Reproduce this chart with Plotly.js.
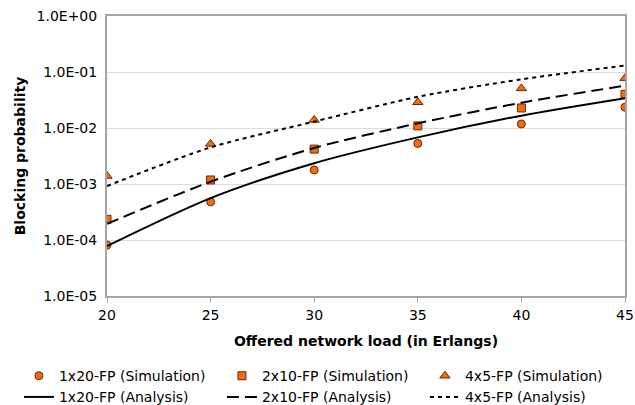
<!DOCTYPE html>
<html>
<head>
<meta charset="utf-8">
<script src="https://cdn.plot.ly/plotly-3.0.1.min.js"></script>
<style>html,body{margin:0;padding:0;background:#fff;}#chart{width:635px;height:405px;}</style>
</head>
<body>
<div id="chart"></div>
<script>
const load = [20, 25, 30, 35, 40, 45];

const sim1x20 = [8.1e-5, 4.8e-4, 1.78e-3, 5.3e-3, 1.18e-2, 2.35e-2];
const sim2x10 = [2.34e-4, 1.18e-3, 4.2e-3, 1.09e-2, 2.28e-2, 4.0e-2];
const sim4x5  = [1.39e-3, 5.2e-3, 1.39e-2, 2.88e-2, 5.1e-2, 7.7e-2];

const ana1x20 = [7.8e-5, 5.6e-4, 2.35e-3, 6.8e-3, 1.66e-2, 3.4e-2];
const ana2x10 = [1.94e-4, 1.1e-3, 4.4e-3, 1.21e-2, 2.83e-2, 5.7e-2];
const ana4x5  = [9.2e-4, 4.5e-3, 1.3e-2, 3.6e-2, 7.4e-2, 1.3e-1];

const yTickVals = [1e-5, 1e-4, 1e-3, 1e-2, 1e-1, 1];
const yTickText = ['1.0E-05', '1.0E-04', '1.0E-03', '1.0E-02', '1.0E-01', '1.0E+00'];
const xTickVals = [20, 25, 30, 35, 40, 45];

const names = {
  s1: '1x20-FP (Simulation)', s2: '2x10-FP (Simulation)', s3: '4x5-FP (Simulation)',
  a1: '1x20-FP (Analysis)', a2: '2x10-FP (Analysis)', a3: '4x5-FP (Analysis)'
};

const orange = '#f26a12';
const outline = '#6b2a00';
function simTrace(y, name, symbol, size) {
  return {x: load, y: y, name: name, type: 'scatter', mode: 'markers',
    marker: {symbol: symbol, size: size, color: orange, line: {color: outline, width: 1}}};
}
function anaTrace(y, name, dash) {
  return {x: load, y: y, name: name, type: 'scatter', mode: 'lines',
    line: {color: '#000000', width: 2, dash: dash, shape: 'spline', smoothing: 0.8}};
}

const data = [
  simTrace(sim1x20, names.s1, 'circle', 8),
  simTrace(sim2x10, names.s2, 'square', 8),
  simTrace(sim4x5, names.s3, 'triangle-up', 9),
  anaTrace(ana1x20, names.a1, 'solid'),
  anaTrace(ana2x10, names.a2, '12px,6px'),
  anaTrace(ana4x5, names.a3, '4px,4px')
];

const font = {family: 'DejaVu Sans, Verdana, sans-serif', size: 14, color: '#000'};
const layout = {
  width: 635, height: 405,
  margin: {l: 107, r: 10, t: 16, b: 109, autoexpand: false},
  paper_bgcolor: '#fff', plot_bgcolor: '#fff',
  font: font,
  showlegend: true,
  xaxis: {
    range: [20, 45], tickvals: xTickVals, ticks: 'outside', ticklen: 5, tickcolor: '#b0b0b0',
    showgrid: false, showline: true, linecolor: '#a6a6a6', linewidth: 2, mirror: true,
    zeroline: false, tickfont: font,
    title: {text: '<b>Offered network load (in Erlangs)</b>', font: font, standoff: 14}
  },
  yaxis: {
    type: 'log', range: [-5, 0], tickmode: 'array', tickvals: yTickVals, ticktext: yTickText,
    showgrid: true, gridcolor: '#dcdcdc', gridwidth: 1,
    showline: true, linecolor: '#a6a6a6', linewidth: 2, mirror: true, ticks: '',
    ticklabelstandoff: 5,
    zeroline: false, tickfont: font,
    title: {text: '<b>Blocking probability</b>', font: font, standoff: 8}
  },
  legend: {
    orientation: 'h', x: -0.17, xanchor: 'left', y: -0.229, yanchor: 'top',
    entrywidth: 158, entrywidthmode: 'pixels', font: font,
    bgcolor: 'rgba(0,0,0,0)', tracegroupgap: 0
  }
};

Plotly.newPlot('chart', data, layout, {displayModeBar: false, staticPlot: true});
</script>
</body>
</html>
